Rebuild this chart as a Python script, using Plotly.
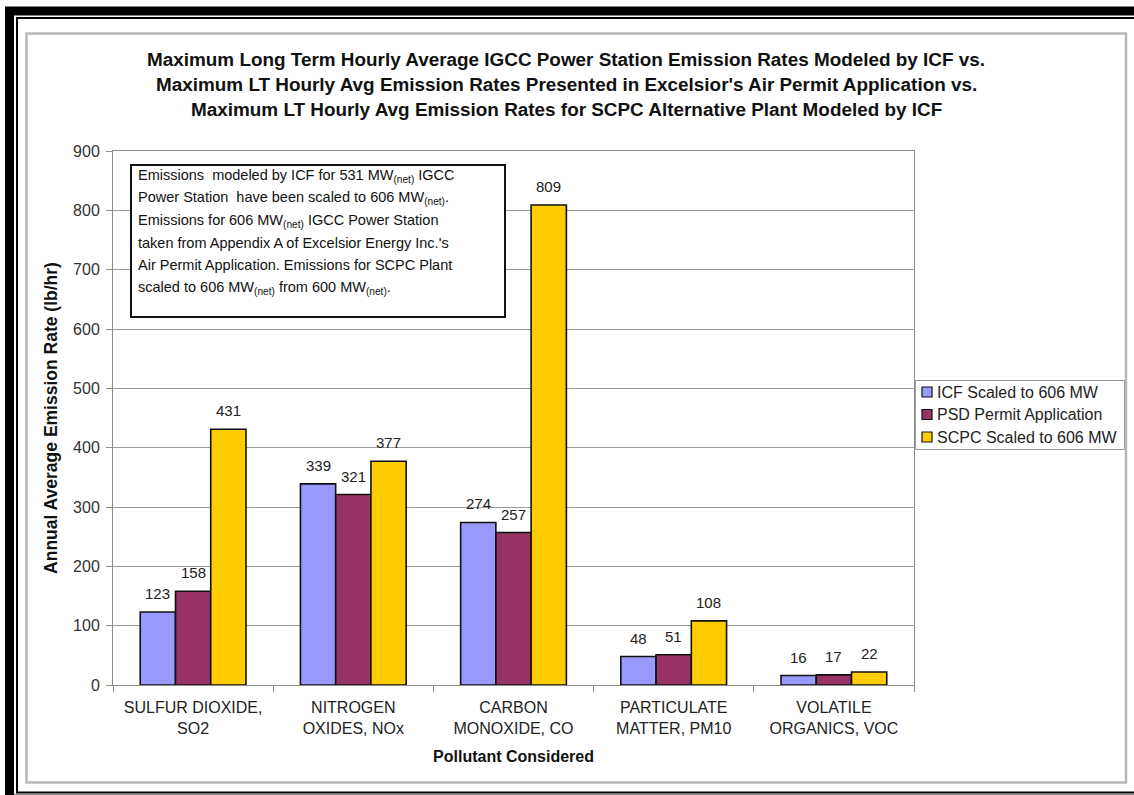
import plotly.graph_objects as go

# ---- data -------------------------------------------------------------
categories = [
    "SULFUR DIOXIDE,<br>SO2",
    "NITROGEN<br>OXIDES, NOx",
    "CARBON<br>MONOXIDE, CO",
    "PARTICULATE<br>MATTER, PM10",
    "VOLATILE<br>ORGANICS, VOC",
]
series_names = ["ICF Scaled to 606 MW", "PSD Permit Application", "SCPC Scaled to 606 MW"]
icf_scaled = [123, 339, 274, 48, 16]
psd_permit = [158, 321, 257, 51, 17]
scpc_scaled = [431, 377, 809, 108, 22]
y_ticks = [0, 100, 200, 300, 400, 500, 600, 700, 800, 900]

title_lines = [
    "Maximum Long Term Hourly Average IGCC Power Station Emission Rates Modeled by ICF vs.",
    "Maximum LT Hourly Avg Emission Rates Presented in Excelsior's Air Permit Application vs.",
    "Maximum LT Hourly Avg Emission Rates for SCPC Alternative Plant Modeled by ICF",
]
note_lines = [
    "Emissions  modeled by ICF for 531 MW<sub>(net)</sub> IGCC",
    "Power Station  have been scaled to 606 MW<sub>(net)</sub>.",
    "Emissions for 606 MW<sub>(net)</sub> IGCC Power Station",
    "taken from Appendix A of Excelsior Energy Inc.'s",
    "Air Permit Application. Emissions for SCPC Plant",
    "scaled to 606 MW<sub>(net)</sub> from 600 MW<sub>(net)</sub>.",
]

# ---- layout geometry (pixels) ----------------------------------------
FIG_W, FIG_H = 1134, 795
PL, PR, PT, PB = 113, 914, 151, 685
PW, PH = PR - PL, PB - PT
BARGAP = 0.34
FONT = "Arial, Liberation Sans, sans-serif"


def px(x):
    return (x - PL) / PW


def py(y):
    return (PB - y) / PH


colors = ["#9999FF", "#993366", "#FFCC00"]
all_series = [icf_scaled, psd_permit, scpc_scaled]

fig = go.Figure()
for name, vals, col in zip(series_names, all_series, colors):
    fig.add_trace(go.Bar(
        name=name, x=categories, y=vals,
        marker=dict(color=col, line=dict(color="#111111", width=1.6)),
    ))

# value labels above each bar
bar_px = PW / len(categories) * (1 - BARGAP) / len(all_series)
annotations = []
for i, vals in enumerate(all_series):
    for cat, v in zip(categories, vals):
        annotations.append(dict(
            x=cat, y=v, xref="x", yref="y", text=str(v), showarrow=False,
            xshift=(i - 1) * bar_px, yanchor="bottom", yshift=8,
            font=dict(family=FONT, size=15, color="#222222"),
        ))

# three-line title, centred on the page
for k, line in enumerate(title_lines):
    annotations.append(dict(
        x=px(FIG_W / 2 - 1), xref="paper", y=py(59 + k * 25.5), yref="paper",
        text="<b>%s</b>" % line, showarrow=False, xanchor="center", yanchor="middle",
        font=dict(family=FONT, size=18.9, color="#111111"),
    ))

# note box text
for k, line in enumerate(note_lines):
    annotations.append(dict(
        x=px(136), xref="paper", y=py(176 + k * 22.3), yref="paper", text=line,
        showarrow=False, xanchor="left", yanchor="middle",
        font=dict(family=FONT, size=14.5, color="#111111"),
    ))

shapes = [
    # outer heavy frame
    dict(type="rect", xref="paper", yref="paper", x0=px(9.5), x1=px(1170), y0=py(11), y1=py(799),
         line=dict(color="black", width=9), layer="below"),
    # inner thin frame
    dict(type="rect", xref="paper", yref="paper", x0=px(17), x1=px(1160), y0=py(18), y1=py(792.5),
         line=dict(color="black", width=2), layer="below"),
    # chart area border
    dict(type="rect", xref="paper", yref="paper", x0=px(26.5), x1=px(1126), y0=py(33.5), y1=py(782.5),
         line=dict(color="#B8B8B8", width=2.5), layer="below"),
    # note box
    dict(type="rect", xref="paper", yref="paper", x0=px(131), x1=px(505), y0=py(165), y1=py(317),
         line=dict(color="#111111", width=2), fillcolor="white", layer="above"),
    # legend box
    dict(type="rect", xref="paper", yref="paper", x0=px(915.5), x1=px(1124.5), y0=py(380.5), y1=py(449.5),
         line=dict(color="#9A9A9A", width=1), fillcolor="white", layer="above"),
]

# legend entries: swatch + label for each series
for k, (name, col) in enumerate(zip(series_names, colors)):
    yc = 392 + k * 22.5
    shapes.append(dict(
        type="rect", xref="paper", yref="paper", x0=px(922), x1=px(932), y0=py(yc - 5), y1=py(yc + 5),
        line=dict(color="#111111", width=1.2), fillcolor=col, layer="above",
    ))
    annotations.append(dict(
        x=px(935), xref="paper", y=py(yc), yref="paper", text=name, showarrow=False,
        xanchor="left", yanchor="middle", font=dict(family=FONT, size=16, color="#222222"),
    ))

fig.update_layout(
    width=FIG_W, height=FIG_H,
    margin=dict(l=PL, r=FIG_W - PR, t=PT, b=FIG_H - PB, autoexpand=False),
    paper_bgcolor="white", plot_bgcolor="white",
    barmode="group", bargap=BARGAP, bargroupgap=0,
    font=dict(family=FONT, size=14, color="#222222"),
    showlegend=False,
    annotations=annotations,
    shapes=shapes,
)

fig.update_xaxes(
    showline=True, linecolor="#8C8C8C", linewidth=1, mirror=True,
    ticks="outside", tickson="boundaries", ticklen=6, tickcolor="#8C8C8C",
    ticklabelstandoff=8,
    tickfont=dict(family=FONT, size=16, color="#222222"),
    title=dict(text="<b>Pollutant Considered</b>", font=dict(family=FONT, size=16, color="#111111"),
               standoff=14),
)
fig.update_yaxes(
    range=[0, 900], tickvals=y_ticks,
    showline=True, linecolor="#8C8C8C", linewidth=1, mirror=True,
    showgrid=True, gridcolor="#9A9A9A", gridwidth=1, zeroline=False,
    ticks="outside", ticklen=6, tickcolor="#8C8C8C", ticklabelstandoff=3,
    tickfont=dict(family=FONT, size=16, color="#333333"),
    title=dict(text="<b>Annual Average Emission Rate (lb/hr)</b>",
               font=dict(family=FONT, size=17.5, color="#111111"), standoff=10),
)

fig.write_html("out.html")
